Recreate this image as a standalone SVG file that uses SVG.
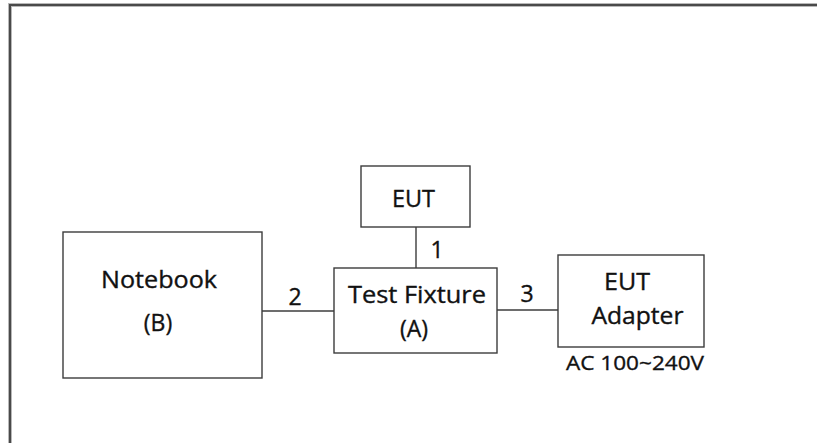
<svg xmlns="http://www.w3.org/2000/svg" width="817" height="443" viewBox="0 0 817 443">
  <style>
    .frame { fill: none; stroke: #4a4a4a; stroke-width: 2; }
    .frame-halo { fill: none; stroke: #b8b8b8; stroke-width: 4; }
    .box { fill: #ffffff; stroke: #3c3c3c; stroke-width: 1.4; }
    .wire { fill: none; stroke: #3c3c3c; stroke-width: 1.4; }
    text { font-family: "Open Sans", "Noto Sans", "DejaVu Sans", sans-serif; fill: #111111; stroke: #111111; stroke-width: 0.35; }
    .lbl { font-size: 23px; text-anchor: middle; }
    .num { font-size: 23px; text-anchor: middle; }
    .note { font-size: 20px; }
  </style>

  <rect width="817" height="443" fill="#ffffff"/>

  <!-- outer page frame, open at right and bottom -->
  <path class="frame-halo" d="M10,450 V5 H830"/>
  <path class="frame" d="M10,450 V5 H830"/>

  <!-- connectors -->
  <g id="connectors">
    <line class="wire" x1="416" y1="227" x2="416" y2="268"/>
    <line class="wire" x1="262" y1="311" x2="334" y2="311"/>
    <line class="wire" x1="497" y1="310" x2="558" y2="310"/>
    <text class="num" x="437" y="258">1</text>
    <text class="num" x="295" y="305">2</text>
    <text class="num" x="527" y="302">3</text>
  </g>

  <g id="eut">
    <rect class="box" x="361" y="166" width="109" height="61"/>
    <text class="lbl" x="413.5" y="207" textLength="43" lengthAdjust="spacingAndGlyphs">EUT</text>
  </g>

  <g id="notebook">
    <rect class="box" x="63" y="232" width="199" height="146"/>
    <text class="lbl" x="159" y="288" textLength="116" lengthAdjust="spacingAndGlyphs">Notebook</text>
    <text class="lbl" x="158" y="331">(B)</text>
  </g>

  <g id="test-fixture">
    <rect class="box" x="334" y="268" width="163" height="85"/>
    <text class="lbl" x="417" y="303" textLength="138" lengthAdjust="spacingAndGlyphs">Test Fixture</text>
    <text class="lbl" x="414" y="337">(A)</text>
  </g>

  <g id="eut-adapter">
    <rect class="box" x="558" y="255" width="146" height="92"/>
    <text class="lbl" x="627" y="290" textLength="46" lengthAdjust="spacingAndGlyphs">EUT</text>
    <text class="lbl" x="637.5" y="324" textLength="92" lengthAdjust="spacingAndGlyphs">Adapter</text>
    <text class="note" x="566" y="370" textLength="138" lengthAdjust="spacingAndGlyphs">AC 100~240V</text>
  </g>
</svg>
